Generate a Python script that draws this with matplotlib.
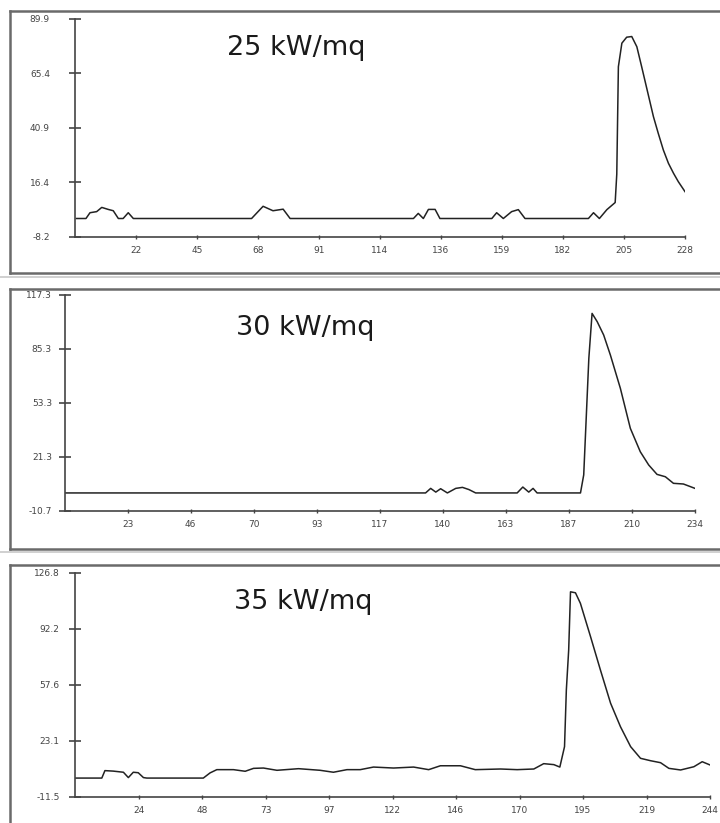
import matplotlib
matplotlib.use("Agg")
import matplotlib.pyplot as plt
import numpy as np
from matplotlib.lines import Line2D

# heat release traces at three irradiance levels
titles = ["25 kW/mq", "30 kW/mq", "35 kW/mq"]

x1 = [0.5, 4.1, 5.6, 8.1, 10, 12.4, 14.3, 16.2, 18, 19.9, 21.8, 66, 70.3, 74, 77.8, 80.4,
      126.5, 128.3, 130.2, 132.1, 134.6, 136.4, 155.8, 157.6, 160.1, 163.2, 165.7, 168.2,
      191.9, 193.8, 196, 198.8, 201.9, 202.5, 203.1, 204.4, 206.2, 208.1, 210, 211.8, 213.7,
      216.2, 218, 219.9, 221.8, 223.7, 225.5, 228]
y1 = [0, 0, 2.6, 3.1, 5.0, 4.1, 3.5, 0, 0, 2.6, 0, 0, 5.5, 3.5, 4.2, 0,
      0, 2.3, 0, 4.1, 4.1, 0, 0, 2.6, 0, 3.1, 4.0, 0,
      0, 2.6, 0, 4.0, 7.2, 20, 68.4, 79, 81.7, 82, 77.4, 68.4, 58.7,
      45.9, 38.4, 30.9, 24.9, 20.4, 16.6, 12.1]

x2 = [0, 134, 135.9, 137.8, 139.6, 142.1, 145.2, 147.7, 150.1, 152.6, 168, 170.1, 172.3,
      173.9, 175.4, 191.5, 192.7, 194.6, 195.8, 197.7, 200.1, 202.6, 206.3, 210, 213.7,
      216.8, 219.9, 223, 226, 229.7, 234]
y2 = [0, 0, 2.7, 0.5, 2.5, 0, 2.7, 3.3, 2, 0, 0, 3.5, 0.5,
      2.7, 0, 0, 10.7, 79.8, 106.4, 101.5, 93.6, 81.7, 62, 38.3, 24.4,
      16.6, 11, 9.6, 5.7, 5.3, 2.7]

x3 = [0, 10.3, 11.5, 14.7, 18.6, 20.5, 22.4, 24.3, 26.3, 27.6, 49.3, 51.9, 54.5, 60.9,
      65.4, 68.6, 72.4, 77.6, 85.9, 94.2, 99.3, 104.5, 109.6, 114.7, 122.4, 130.1, 135.9,
      140.4, 148.1, 153.8, 163.5, 169.9, 176.3, 180.1, 184, 186.3, 188.1, 188.8, 189.7,
      190.4, 192.3, 194.2, 198.1, 201.9, 205.8, 209.6, 213.5, 217.3, 221.2, 225, 228.2,
      232.7, 237.8, 241, 244]
y3 = [0, 0, 4.6, 4.3, 3.6, 0.3, 3.6, 3.3, 0.3, 0, 0, 3.2, 5.2, 5.2,
      4.2, 6, 6.2, 4.8, 5.8, 4.8, 3.6, 5.2, 5.2, 6.8, 6.2, 6.8, 5.2,
      7.6, 7.6, 5.2, 5.6, 5.2, 5.6, 8.9, 8.3, 6.8, 19.4, 54.4, 79.1,
      115, 114.4, 107.9, 87.3, 66.7, 46.2, 31.7, 19.4, 12.2, 10.7, 9.5, 6,
      5, 7, 10.1, 8.1]

ytick_labels = [["-8.2", "16.4", "40.9", "65.4", "89.9"],
                ["-10.7", "21.3", "53.3", "85.3", "117.3"],
                ["-11.5", "23.1", "57.6", "92.2", "126.8"]]
xmax = [228, 234, 244]

W, H = 720, 823
fig = plt.figure(figsize=(W / 100, H / 100), dpi=100)

# axes rectangles in pixels: left, right, top, bottom
rects = [(75, 685, 19, 236.7), (64.5, 695, 295, 511), (75, 710, 572.7, 796.7)]
ypads = [14, 5, 7]
title_pos = [(227, 48), (236, 328), (234, 602)]
frames = [(11, 273), (289, 549), (565, 900)]

# window frames around each panel (they run off the right edge)
for top, bot in frames:
    for y in (top, bot):
        fig.add_artist(Line2D([10 / W, 1.01], [1 - y / H, 1 - y / H],
                              transform=fig.transFigure, color="#6a6a6a", lw=1.8))
    fig.add_artist(Line2D([10 / W, 10 / W], [1 - top / H, 1 - min(bot, H) / H],
                          transform=fig.transFigure, color="#6a6a6a", lw=1.8))
for y in (277, 552):
    fig.add_artist(Line2D([0, 1], [1 - y / H, 1 - y / H], transform=fig.transFigure,
                          color="#c8c8c8", lw=1.2))

data = [(x1, y1), (x2, y2), (x3, y3)]
for i, (xs, ys) in enumerate(data):
    l, r, t, b = rects[i]
    ax = fig.add_axes([l / W, 1 - b / H, (r - l) / W, (b - t) / H])
    ymin, ymax = float(ytick_labels[i][0]), float(ytick_labels[i][-1])
    ax.plot(xs, ys, color="#222222", lw=1.1)
    ax.set_xlim(0, xmax[i])
    ax.set_ylim(ymin, ymax)
    ax.patch.set_alpha(0)
    for s in ("top", "right"):
        ax.spines[s].set_visible(False)
    for s in ("left", "bottom"):
        ax.spines[s].set_color("#444444")
        ax.spines[s].set_linewidth(1.2)

    ax.set_yticks(np.linspace(ymin, ymax, 5))
    ax.set_yticklabels(ytick_labels[i])
    xt = [xmax[i] * k / 10 for k in range(1, 11)]
    ax.set_xticks(xt)
    ax.set_xticklabels([str(int(v)) for v in xt])
    ax.tick_params(axis="y", direction="inout", length=8, width=1.2, color="#444444",
                   labelsize=6.5, labelcolor="#444444", pad=ypads[i])
    ax.tick_params(axis="x", direction="inout", length=3, width=1.0, color="#444444",
                   labelsize=6.5, labelcolor="#444444", pad=5)

    tx, ty = title_pos[i]
    fig.text(tx / W, 1 - ty / H, titles[i], fontsize=19.5, family="DejaVu Sans",
             color="#1a1a1a", ha="left", va="center")

fig.savefig("out.png", dpi=100)
